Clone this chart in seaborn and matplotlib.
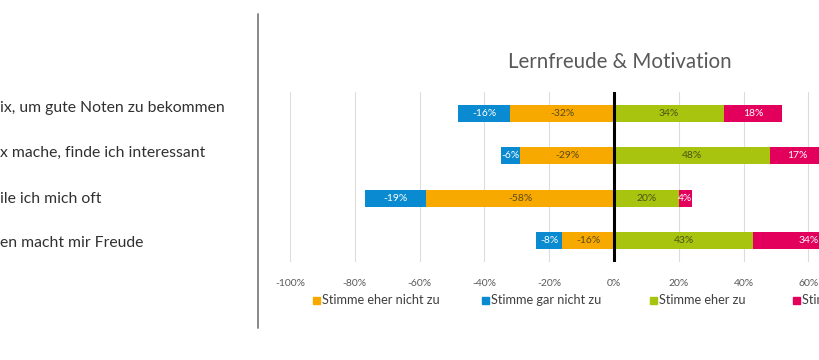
import matplotlib
matplotlib.use("Agg")
import matplotlib.pyplot as plt
import seaborn as sns
import pandas as pd
from matplotlib.patches import Rectangle
from matplotlib.lines import Line2D

items = ["Item1", "Item2", "Item3", "Item4"]
left_labels = ["ix, um gute Noten zu bekommen",
               "x mache, finde ich interessant",
               "ile ich mich oft",
               "en macht mir Freude"]
gar_nicht = [-16, -6, -19, -8]      # Stimme gar nicht zu
eher_nicht = [-32, -29, -58, -16]   # Stimme eher nicht zu
eher = [34, 48, 20, 43]             # Stimme eher zu
voll = [18, 17, 4, 34]              # Stimme voll zu
xticks = [-100, -80, -60, -40, -20, 0, 20, 40, 60]
title = "Lernfreude & Motivation"
legend_labels = ["Stimme eher nicht zu", "Stimme gar nicht zu", "Stimme eher zu", "Stimme voll zu"]

c_blue = "#0A8AD0"
c_orange = "#F7A900"
c_green = "#A8C40E"
c_pink = "#E2005C"

sns.set_theme(style="white")
plt.rcParams["font.family"] = ["Lato", "DejaVu Sans"]

df = pd.DataFrame({
    "item": items,
    "gar_cum": [a + b for a, b in zip(gar_nicht, eher_nicht)],
    "eher_nicht": eher_nicht,
    "voll_cum": [a + b for a, b in zip(eher, voll)],
    "eher": eher,
})

fig = plt.figure(figsize=(8.2, 3.6), dpi=100)
fig.patch.set_facecolor("white")
W, H = 820, 360
ax = fig.add_axes([290 / W, (H - 262) / H, 648 / W, 170 / H])

for col, colr in [("gar_cum", c_blue), ("eher_nicht", c_orange), ("voll_cum", c_pink), ("eher", c_green)]:
    sns.barplot(data=df, x=col, y="item", orient="h", color=colr, saturation=1,
                width=0.4, errorbar=None, ax=ax, zorder=3, linewidth=0, edgecolor="none")

ax.set_xlim(-100, 100)
ax.set_ylim(3.5, -0.5)
ax.set_xticks(xticks)
ax.set_xticklabels([f"{v}%" for v in xticks], fontsize=7.5, color="#595959")
ax.tick_params(axis="x", length=0, pad=12)
ax.set_yticks([])
ax.set_xlabel("")
ax.set_ylabel("")
for s in ax.spines.values():
    s.set_visible(False)
ax.grid(axis="x", color="#DCDCDC", linewidth=0.8, zorder=0)
ax.set_axisbelow(True)
ax.axvline(0, color="black", linewidth=2.2, zorder=5)

# segment labels
for i in range(len(items)):
    segs = [
        (eher_nicht[i] + gar_nicht[i] / 2, gar_nicht[i], "white"),
        (eher_nicht[i] / 2, eher_nicht[i], "#5a4a1a"),
        (eher[i] / 2, eher[i], "#4a5418"),
        (eher[i] + voll[i] / 2, voll[i], "white"),
    ]
    for cx, v, tc in segs:
        ax.text(cx, i, f"{v}%", ha="center", va="center", fontsize=7.5, color=tc, zorder=6)

# title
fig.text(620 / W, 1 - 62 / H, title, ha="center", va="center", fontsize=14.8, color="#595959")

# left labels
for txt, y in zip(left_labels, [108, 153, 199, 243]):
    fig.text(0, 1 - y / H, txt, ha="left", va="center", fontsize=11.3, color="#303030")

# separator line
fig.add_artist(Line2D([258 / W, 258 / W], [1 - 14 / H, 1 - 328 / H], color="#7f7f7f", linewidth=1.3))

# legend
for lab, colr, x in zip(legend_labels, [c_orange, c_blue, c_green, c_pink], [313, 482, 650, 793]):
    fig.add_artist(Rectangle((x / W, 1 - 304 / H), 7 / W, 7 / H, color=colr, transform=fig.transFigure))
    fig.text((x + 9) / W, 1 - 300 / H, lab, ha="left", va="center", fontsize=9.2, color="#404040")

fig.savefig("out.png", dpi=100)
